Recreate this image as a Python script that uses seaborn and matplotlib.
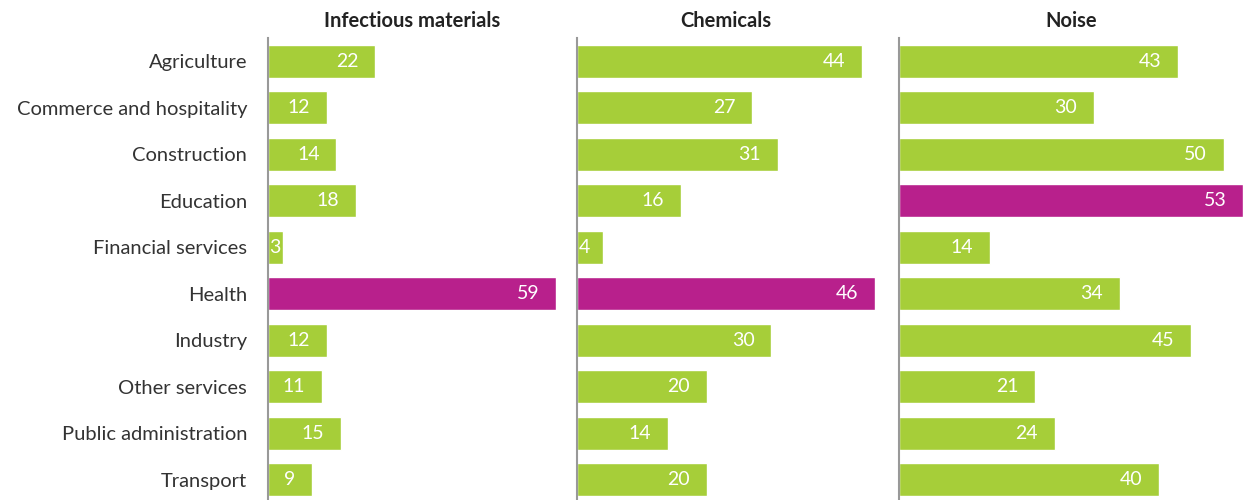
import pandas as pd
import matplotlib
matplotlib.use('Agg')
import matplotlib.pyplot as plt
import seaborn as sns

sectors = ["Agriculture", "Commerce and hospitality", "Construction", "Education",
           "Financial services", "Health", "Industry", "Other services",
           "Public administration", "Transport"]
panel_titles = ["Infectious materials", "Chemicals", "Noise"]
infectious = [22, 12, 14, 18, 3, 59, 12, 11, 15, 9]
chemicals = [44, 27, 31, 16, 4, 46, 30, 20, 14, 20]
noise = [43, 30, 50, 53, 14, 34, 45, 21, 24, 40]

GREEN = "#a6ce39"
MAGENTA = "#b8208c"

sns.set_theme(style="white")
plt.rcParams['font.family'] = ['Lato', 'DejaVu Sans']

fig = plt.figure(figsize=(12.43, 5), dpi=100)
W, H = 1243, 500
# panel spans in pixels (left, right)
spans = [(268, 556), (577, 875), (899, 1243)]
top_px, bottom_px = 38, 503

for i, (title, vals) in enumerate(zip(panel_titles, [infectious, chemicals, noise])):
    l, r = spans[i]
    ax = fig.add_axes([l / W, 1 - bottom_px / H, (r - l) / W, (bottom_px - top_px) / H])
    df = pd.DataFrame({"sector": sectors, "value": vals})
    df["top"] = df["value"] == df["value"].max()
    sns.barplot(data=df, y="sector", x="value", hue="top",
                palette={True: MAGENTA, False: GREEN}, dodge=False,
                legend=False, width=0.71, ax=ax, saturation=1)
    ax.set_xlim(0, df["value"].max())
    ax.set_ylim(9.5, -0.5)
    ax.set_xlabel("")
    ax.set_ylabel("")
    ax.set_xticks([])
    for s in ["top", "right", "bottom"]:
        ax.spines[s].set_visible(False)
    ax.spines["left"].set_color("#999999")
    ax.spines["left"].set_linewidth(1.5)
    ax.set_title(title, fontsize=14.5, fontweight="bold", color="#222222", pad=8)
    if i == 0:
        ax.tick_params(axis="y", length=0, pad=15, labelsize=14.5, labelcolor="#333333")
    else:
        ax.set_yticks([])
    # value labels inside bar ends
    for j, v in enumerate(vals):
        bar_px = v / df["value"].max() * (r - l)
        if bar_px < 30:
            ax.annotate(str(v), (0, j), xytext=(1, 0), textcoords="offset points",
                        ha="left", va="center", color="white", fontsize=14)
        else:
            ax.annotate(str(v), (v, j), xytext=(-12, 0), textcoords="offset points",
                        ha="right", va="center", color="white", fontsize=14)

plt.savefig("out.png", dpi=100)
